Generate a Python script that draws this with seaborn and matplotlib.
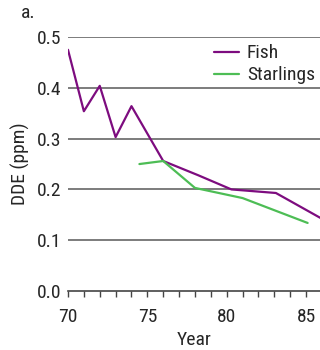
import pandas as pd
import seaborn as sns
import matplotlib
matplotlib.use("Agg")
from matplotlib import pyplot as plt
from matplotlib.ticker import MultipleLocator

# values
fish_year = [70, 71, 72, 73, 74, 76, 78.2, 80.3, 83.1, 85.9]
fish_dde = [0.475, 0.354, 0.404, 0.303, 0.364, 0.256, 0.228, 0.200, 0.193, 0.144]
star_year = [74.5, 76, 78, 81, 85.1]
star_dde = [0.250, 0.256, 0.203, 0.183, 0.134]

df = pd.concat([
    pd.DataFrame({"Year": fish_year, "DDE": fish_dde, "series": "Fish"}),
    pd.DataFrame({"Year": star_year, "DDE": star_dde, "series": "Starlings"}),
])

sns.set_style("white")
plt.rcParams['font.family'] = ['Roboto Condensed', 'Liberation Sans Narrow',
                               'Liberation Sans', 'DejaVu Sans']
plt.rcParams['font.size'] = 14

fig = plt.figure(figsize=(3.2, 3.5), dpi=100)
ax = fig.add_axes([0.2125, 0.1686, 0.7875, 0.7254])

for y in [0.1, 0.2, 0.3, 0.4, 0.5]:
    ax.axhline(y, color='#666666', lw=1.2, zorder=0)

sns.lineplot(data=df, x="Year", y="DDE", hue="series",
             palette={"Fish": "#7D0C7F", "Starlings": "#4DBD55"},
             lw=1.6, ax=ax, sort=False, estimator=None)

ax.set_xlim(70, 85.88)
ax.set_ylim(0, 0.5)
ax.set_yticks([0.0, 0.1, 0.2, 0.3, 0.4, 0.5])
ax.set_yticklabels(["0.0", "0.1", "0.2", "0.3", "0.4", "0.5"])
ax.xaxis.set_major_locator(MultipleLocator(5))
ax.xaxis.set_minor_locator(MultipleLocator(1))
ax.tick_params(axis='x', which='both', direction='out', length=4, width=1,
               color='#444444', bottom=True, pad=8)
ax.tick_params(axis='y', length=0, pad=5)
for s in ['top', 'right', 'left']:
    ax.spines[s].set_visible(False)
ax.spines['bottom'].set_color('#444444')
ax.spines['bottom'].set_linewidth(1.2)

ax.set_xlabel("Year", labelpad=4)
ax.set_ylabel("DDE (ppm)", labelpad=5)

leg = ax.legend(loc='upper right', bbox_to_anchor=(1.05, 1.04), frameon=False,
                handlelength=1.3, handletextpad=0.4, labelspacing=0.2)
leg.set_title(None)

fig.text(0.065, 0.99, "a.", ha='left', va='top', fontsize=14)

fig.savefig("out.png", dpi=100)
